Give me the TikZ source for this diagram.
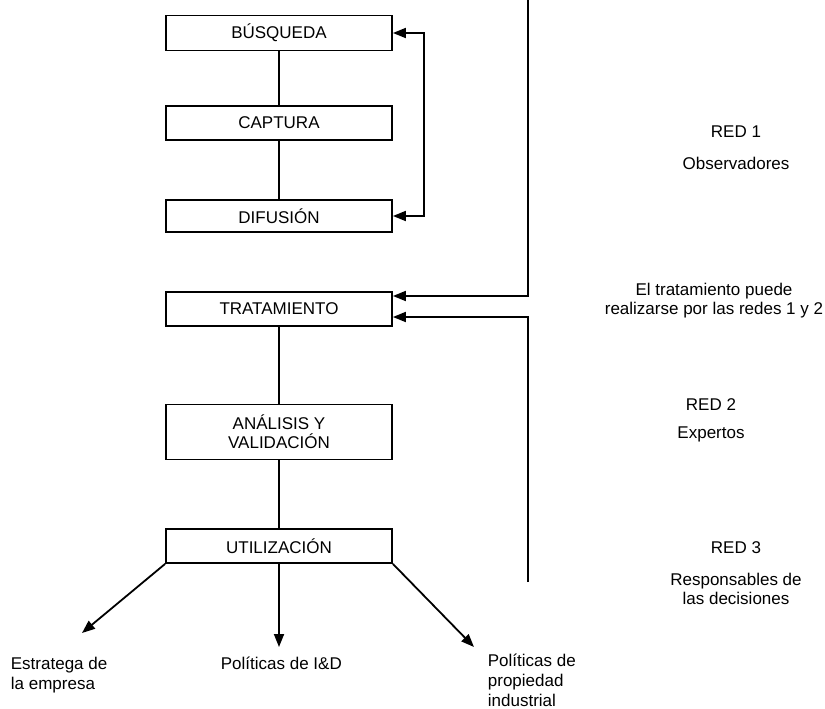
\documentclass[tikz,border=0pt]{standalone}
\usepackage{fontspec}
\setmainfont{Liberation Sans}
\usetikzlibrary{arrows.meta,calc}
\begin{document}
\begin{tikzpicture}[x=1pt,y=-1pt,
  line width=1.8pt,
  stage/.style={draw, rectangle, minimum width=226pt, inner sep=0pt, align=center,
    font=\fontsize{17}{19}\selectfont},
  note/.style={align=center, inner sep=0pt, font=\fontsize{17}{19}\selectfont},
  outlbl/.style={align=left, inner sep=0pt, font=\fontsize{17}{20}\selectfont},
  tip/.style={-{Triangle[length=13pt,width=10pt]}},
  tips/.style={{Triangle[length=13pt,width=10pt]}-{Triangle[length=13pt,width=10pt]}}]
\useasboundingbox (0,0) rectangle (825,709);

% process stages
\node[stage, minimum height=35pt] (busq) at (279,33) {BÚSQUEDA};
\node[stage, minimum height=34pt] (capt) at (279,123) {CAPTURA};
\node[stage, minimum height=32pt] (difu) at (279,216) {DIFUSIÓN};
\node[stage, minimum height=34pt] (trat) at (279,309) {TRATAMIENTO};
\node[stage, minimum height=55pt] (anal) at (279,432) {ANÁLISIS Y\\VALIDACIÓN};
\node[stage, minimum height=34pt] (util) at (279,546) {UTILIZACIÓN};

% links between stages
\draw (busq) -- (capt);
\draw (capt) -- (difu);
\draw (trat) -- (anal);
\draw (anal) -- (util);

% feedback loop between search and diffusion
\draw[tips] (difu.east) -- ++(31,0) |- (busq.east);

% network boundary lines feeding the treatment stage
\coordinate (netTop) at (528,0);
\coordinate (netBot) at (528,582);
\draw[tip] (netTop) |- ($(trat.east)+(0,-13)$);
\draw[tip] (netBot) |- ($(trat.east)+(0,8)$);

% outputs
\coordinate (tEst) at (82,633);
\coordinate (tPol) at (279,647);
\coordinate (tProp) at (474,647);
\draw[tip] (util.south west) -- (tEst);
\draw[tip] (util.south) -- (tPol);
\draw[tip] (util.south east) -- (tProp);

\node[outlbl, anchor=north west] (est) at (10,656) {Estratega de\\la empresa};
\node[outlbl, anchor=north west] (pol) at (220,656) {Políticas de I\&D};
\node[outlbl, anchor=north west] (prop) at (487,653) {Políticas de\\propiedad\\industrial};

% network descriptions
\node[note] (red1) at (736,132) {RED 1};
\node[note] (obs) at (736,163) {Observadores};
\node[note] (comm) at (714,301) {El tratamiento puede\\realizarse por las redes 1 y 2};
\node[note] (red2) at (711,405) {RED 2};
\node[note] (exp) at (711,434) {Expertos};
\node[note] (red3) at (736,548) {RED 3};
\node[note] (resp) at (736,589) {Responsables de\\las decisiones};
\end{tikzpicture}
\end{document}
